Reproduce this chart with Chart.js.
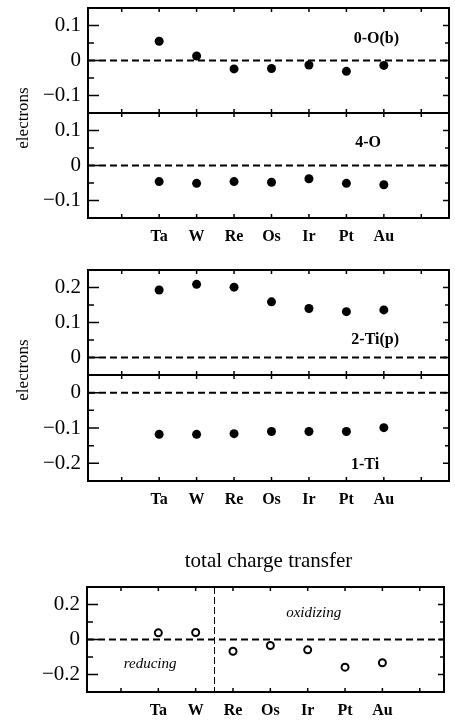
<!DOCTYPE html>
<html>
<head>
<meta charset="utf-8">
<script src="https://cdn.jsdelivr.net/npm/chart.js@4.4.1/dist/chart.umd.min.js"></script>
<style>
  html, body { margin: 0; padding: 0; background: #fff; overflow: hidden; }
  body { width: 455px; height: 721px; position: relative; }
  canvas { position: absolute; left: 0; }
  .ylabel {
    position: absolute;
    font: 17px 'Liberation Serif', 'DejaVu Serif', serif;
    color: #000;
    white-space: nowrap;
    transform: translate(-50%, -50%) rotate(-90deg);
  }
</style>
</head>
<body>
<canvas id="oob" width="455" height="153" style="top:-16px"></canvas>
<canvas id="o4" width="455" height="159" style="top:89px"></canvas>
<canvas id="ti2p" width="455" height="153" style="top:246px"></canvas>
<canvas id="ti1" width="455" height="160" style="top:351px"></canvas>
<canvas id="total" width="455" height="173" style="top:545px"></canvas>
<div class="ylabel" style="left:23px; top:118px">electrons</div>
<div class="ylabel" style="left:23px; top:370px">electrons</div>

<script>
// substrate metals along the x axis
const elements = ['Ta', 'W', 'Re', 'Os', 'Ir', 'Pt', 'Au'];
const frameTicks = [0, 1, 2, 3, 4, 5, 6, 7, 8];

// charge change per site (electrons)
const oobValues = [0.055, 0.013, -0.024, -0.023, -0.013, -0.031, -0.014];
const o4Values = [-0.046, -0.051, -0.046, -0.048, -0.038, -0.051, -0.055];
const ti2pValues = [0.193, 0.209, 0.201, 0.159, 0.140, 0.131, 0.136];
const ti1Values = [-0.118, -0.118, -0.116, -0.110, -0.110, -0.110, -0.099];
const totalValues = [0.038, 0.040, -0.067, -0.034, -0.059, -0.158, -0.133];

// y tick values (labelled / unlabelled)
const oTicks = [-0.1, 0, 0.1];
const oMinor = [-0.05, 0.05];
const tiPTicks = [0, 0.1, 0.2];
const tiPMinor = [0.05, 0.15];
const tiTicks = [-0.2, -0.1, 0];
const tiMinor = [-0.15, -0.05];
const totalTicks = [-0.2, 0, 0.2];
const totalMinor = [-0.1, 0.1];

const serif = "'Liberation Serif', 'DejaVu Serif', serif";

function fmt(v) {
    if (Math.abs(v) < 1e-9) return '0';
    return (v < 0 ? '\u2212' : '') + Math.abs(v).toFixed(1);
}

// extra drawing per canvas: frame, inward ticks, zero line, annotations
const panels = {
    oob: { minor: oMinor, labels: [{ text: '0-O(b)', x: 6.8, y: 0.063, font: 'bold 16px ' + serif }] },
    o4: { minor: oMinor, labels: [{ text: '4-O', x: 6.58, y: 0.066, font: 'bold 16px ' + serif }] },
    ti2p: { minor: tiPMinor, labels: [{ text: '2-Ti(p)', x: 6.77, y: 0.05, font: 'bold 16px ' + serif }] },
    ti1: { minor: tiMinor, labels: [{ text: '1-Ti', x: 6.5, y: -0.203, font: 'bold 16px ' + serif }] },
    total: {
        minor: totalMinor,
        divider: 2.5,
        title: 'total charge transfer',
        labels: [
            { text: 'reducing', x: 0.78, y: -0.143, font: 'italic 15px ' + serif },
            { text: 'oxidizing', x: 5.16, y: 0.149, font: 'italic 15px ' + serif }
        ]
    }
};

const panelPlugin = {
    id: 'panelDecor',
    beforeDatasetsDraw(chart) {
        const p = panels[chart.canvas.id];
        const { ctx, chartArea: a } = chart;
        const x = chart.scales.x, y = chart.scales.y;
        ctx.save();
        ctx.strokeStyle = '#000';
        ctx.lineWidth = 2;
        ctx.setLineDash([7, 4]);
        const y0 = y.getPixelForValue(0);
        ctx.beginPath();
        ctx.moveTo(a.left, y0);
        ctx.lineTo(a.right, y0);
        ctx.stroke();
        if (p.divider !== undefined) {
            const xd = Math.round(x.getPixelForValue(p.divider)) + 0.5;
            ctx.lineWidth = 1;
            ctx.setLineDash([7, 3]);
            ctx.beginPath();
            ctx.moveTo(xd, a.top);
            ctx.lineTo(xd, a.bottom);
            ctx.stroke();
        }
        ctx.restore();
    },
    afterDatasetsDraw(chart) {
        const p = panels[chart.canvas.id];
        const { ctx, chartArea: a } = chart;
        const x = chart.scales.x, y = chart.scales.y;
        ctx.save();
        ctx.strokeStyle = '#000';
        ctx.fillStyle = '#000';
        ctx.setLineDash([]);

        // ticks
        ctx.lineWidth = 1.5;
        ctx.beginPath();
        const yt = (v, l, r) => {
            const py = y.getPixelForValue(v);
            ctx.moveTo(a.left, py); ctx.lineTo(a.left + l, py);
            ctx.moveTo(a.right, py); ctx.lineTo(a.right - r, py);
        };
        y.ticks.forEach(t => yt(t.value, 11, 6));
        p.minor.forEach(v => yt(v, 6, 4));
        frameTicks.forEach(v => {
            const px = x.getPixelForValue(v);
            ctx.moveTo(px, a.top); ctx.lineTo(px, a.top + 4);
            ctx.moveTo(px, a.bottom); ctx.lineTo(px, a.bottom - 4);
        });
        ctx.stroke();

        // frame
        ctx.lineWidth = 2;
        ctx.strokeRect(a.left, a.top, a.right - a.left, a.bottom - a.top);

        // annotations
        ctx.textAlign = 'center';
        ctx.textBaseline = 'middle';
        p.labels.forEach(l => {
            ctx.font = l.font;
            ctx.fillText(l.text, x.getPixelForValue(l.x), y.getPixelForValue(l.y));
        });
        if (p.title) {
            ctx.font = '21px ' + serif;
            ctx.fillText(p.title, (a.left + a.right) / 2 + 3, a.top - 26);
        }
        ctx.restore();
    }
};

function makePanel(id, values, opts) {
    const open = !!opts.open;
    return new Chart(document.getElementById(id), {
        type: 'scatter',
        data: {
            datasets: [{
                data: values.map((v, i) => ({ x: i + 1, y: v })),
                pointStyle: 'circle',
                pointRadius: open ? 3.5 : 4.5,
                borderWidth: open ? 2 : 0,
                borderColor: '#000',
                backgroundColor: open ? '#fff' : '#000'
            }]
        },
        options: {
            responsive: false,
            animation: false,
            events: [],
            layout: { padding: { left: 10, right: opts.padRight, top: opts.padTop, bottom: opts.padBottom } },
            plugins: { legend: { display: false }, tooltip: { enabled: false } },
            scales: {
                x: {
                    type: 'linear',
                    min: opts.xMin,
                    max: opts.xMax,
                    display: !!opts.showX,
                    grid: { display: false, drawTicks: false },
                    border: { display: false },
                    afterBuildTicks: s => { s.ticks = elements.map((e, i) => ({ value: i + 1 })); },
                    afterFit: s => { s.height = opts.xHeight || 0; },
                    ticks: {
                        autoSkip: false,
                        maxRotation: 0,
                        padding: 9,
                        color: '#000',
                        font: { family: serif, size: 16, weight: 'bold' },
                        callback: v => elements[Math.round(v) - 1]
                    }
                },
                y: {
                    min: opts.yMin,
                    max: opts.yMax,
                    grid: { display: false, drawTicks: false },
                    border: { display: false },
                    afterBuildTicks: s => { s.ticks = opts.yTicks.map(v => ({ value: v })); },
                    afterFit: s => { s.width = opts.yWidth; },
                    ticks: {
                        padding: 7,
                        color: '#000',
                        font: { family: serif, size: 21 },
                        callback: v => fmt(v)
                    }
                }
            }
        },
        plugins: [panelPlugin]
    });
}

const wide = { xMin: -0.9, xMax: 8.74, padRight: 6, yWidth: 78 };

makePanel('oob', oobValues, Object.assign({}, wide, {
    yMin: -0.15, yMax: 0.15, yTicks: oTicks, padTop: 24, padBottom: 24
}));
makePanel('o4', o4Values, Object.assign({}, wide, {
    yMin: -0.15, yMax: 0.15, yTicks: oTicks, padTop: 24, padBottom: 4, showX: true, xHeight: 26
}));
makePanel('ti2p', ti2pValues, Object.assign({}, wide, {
    yMin: -0.05, yMax: 0.25, yTicks: tiPTicks, padTop: 24, padBottom: 24
}));
makePanel('ti1', ti1Values, Object.assign({}, wide, {
    yMin: -0.25, yMax: 0.05, yTicks: tiTicks, padTop: 24, padBottom: 4, showX: true, xHeight: 26
}));
makePanel('total', totalValues, {
    xMin: -0.91, xMax: 8.65, padRight: 11, yWidth: 77,
    yMin: -0.3, yMax: 0.3, yTicks: totalTicks, padTop: 42, padBottom: 2,
    showX: true, xHeight: 24, open: true
});
</script>
</body>
</html>
